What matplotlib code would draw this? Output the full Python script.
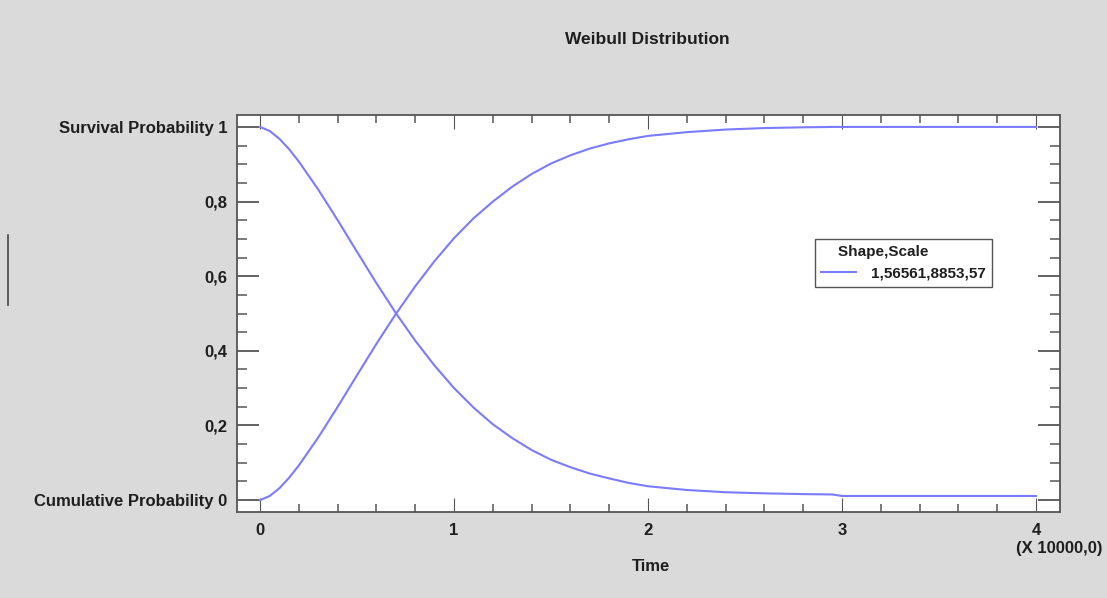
import matplotlib
matplotlib.use("Agg")
import matplotlib.pyplot as plt
from matplotlib.ticker import MultipleLocator, FixedLocator
from matplotlib.lines import Line2D

# ---- data (time in units of 10000) ----
time = [0.0, 0.05, 0.1, 0.15, 0.2, 0.3, 0.4, 0.5, 0.6, 0.7, 0.8, 0.9, 1.0,
        1.1, 1.2, 1.3, 1.4, 1.5, 1.6, 1.7, 1.8, 1.9, 2.0,
        2.2, 2.4, 2.6, 2.8, 2.95, 3.0, 3.5, 4.0]
survival = [1.0, 0.989, 0.968, 0.940, 0.907, 0.832, 0.750, 0.665, 0.581, 0.501, 0.427, 0.360, 0.300,
            0.248, 0.203, 0.166, 0.134, 0.108, 0.088, 0.071, 0.058, 0.046, 0.037,
            0.027, 0.021, 0.018, 0.016, 0.015, 0.011, 0.011, 0.011]
cumulative = [0.0, 0.011, 0.032, 0.060, 0.093, 0.168, 0.250, 0.335, 0.419, 0.499, 0.573, 0.641, 0.702,
              0.755, 0.800, 0.840, 0.874, 0.902, 0.924, 0.942, 0.956, 0.967, 0.976,
              0.986, 0.993, 0.997, 0.999, 1.0, 1.0, 1.0, 1.0]
y_ticks = [0.0, 0.2, 0.4, 0.6, 0.8, 1.0]
y_tick_labels = ["Cumulative Probability 0", "0,2", "0,4", "0,6", "0,8", "Survival Probability 1"]
x_ticks = [0, 1, 2, 3, 4]
x_tick_labels = ["0", "1", "2", "3", "4"]
legend_title = "    Shape,Scale"
legend_label = "1,56561,8853,57"

plt.rcParams['font.family'] = ['Liberation Sans', 'DejaVu Sans']

bg = "#dadada"
line_color = "#7b7bff"
frame_color = "#555555"
text_color = "#1e1e1e"

fig = plt.figure(figsize=(11.07, 5.98), dpi=100, facecolor=bg)
ax = fig.add_axes([0.2141, 0.1438, 0.7435, 0.6639])
ax.set_facecolor("white")

ln, = ax.plot(time, survival, color=line_color, lw=1.5)
ax.plot(time, cumulative, color=line_color, lw=1.5)

ax.set_xlim(-0.119, 4.124)
ax.set_ylim(-0.032, 1.032)

for s in ax.spines.values():
    s.set_color(frame_color)
    s.set_linewidth(1.3)

ax.xaxis.set_major_locator(FixedLocator(x_ticks))
ax.set_xticklabels(x_tick_labels)
ax.xaxis.set_minor_locator(MultipleLocator(0.2))
ax.yaxis.set_major_locator(FixedLocator(y_ticks))
ax.set_yticklabels(y_tick_labels)
ax.yaxis.set_minor_locator(MultipleLocator(0.05))

ax.tick_params(axis='both', which='both', direction='in', top=True, right=True,
               colors=frame_color, labelcolor=text_color)
ax.tick_params(axis='y', which='major', length=16, width=1.3, pad=7, labelsize=12)
ax.tick_params(axis='y', which='minor', length=7, width=1.1)
ax.tick_params(axis='x', which='major', length=10, width=0.8, pad=8, labelsize=12)
ax.tick_params(axis='x', which='minor', length=6, width=1.1)
for lab in ax.get_xticklabels() + ax.get_yticklabels():
    lab.set_fontweight('bold')

fig.text(0.585, 0.934, "Weibull Distribution", ha='center', va='center',
         fontsize=12.5, fontweight='bold', color=text_color)
fig.text(0.588, 0.053, "Time", ha='center', va='center',
         fontsize=12, fontweight='bold', color=text_color)
fig.text(0.996, 0.083, "(X 10000,0)", ha='right', va='center',
         fontsize=12, fontweight='bold', color=text_color)

leg = ax.legend([ln], [legend_label], title=legend_title, loc='upper left',
                bbox_to_anchor=(0.702, 0.688), borderaxespad=0.0,
                frameon=True, fancybox=False,
                framealpha=1, edgecolor=frame_color, handlelength=2.3,
                borderpad=0.4, handletextpad=1.0, fontsize=11,
                alignment='left',
                title_fontproperties={'weight': 'bold', 'size': 11})
leg.get_frame().set_linewidth(1.0)
for t in leg.get_texts():
    t.set_fontweight('bold')
    t.set_color(text_color)
leg.get_title().set_color(text_color)

# thin artifact line at left edge
fig.add_artist(Line2D([0.0075, 0.0075], [1 - 235/598, 1 - 305/598],
                      transform=fig.transFigure, color="#444444", lw=1.2))

fig.savefig("out.png", dpi=100, facecolor=bg)
